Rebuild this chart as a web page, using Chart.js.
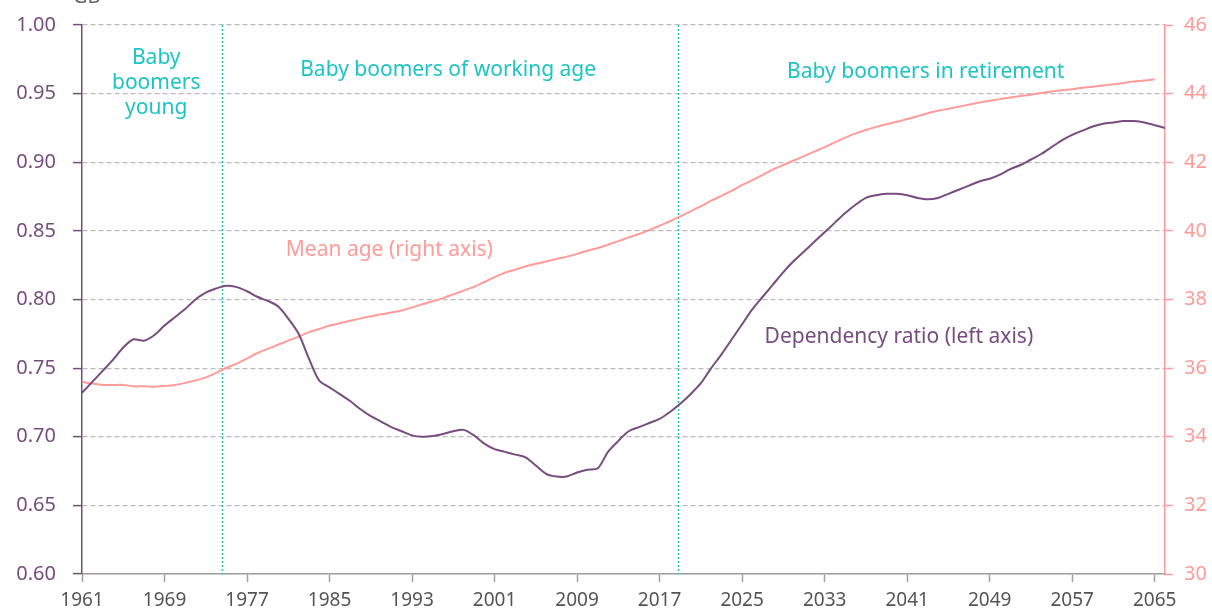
<!DOCTYPE html>
<html>
<head>
<meta charset="utf-8">
<script src="https://cdn.jsdelivr.net/npm/chart.js@4.4.1/dist/chart.umd.min.js"></script>
<style>
  body { margin: 0; background: #fff; }
  #wrap { width: 1212px; height: 612px; position: relative; }
</style>
</head>
<body>
<div id="wrap"><canvas id="ageChart"></canvas></div>
<script>
// years shown on the horizontal axis
const xTickYears = [1961, 1969, 1977, 1985, 1993, 2001, 2009, 2017, 2025, 2033, 2041, 2049, 2057, 2065];
const leftTicks = [0.60, 0.65, 0.70, 0.75, 0.80, 0.85, 0.90, 0.95, 1.00];
const rightTicks = [30, 32, 34, 36, 38, 40, 42, 44, 46];

// dependency ratio, 1961-2066 (left axis)
const dependencyRatio = [
  0.732, 0.740, 0.748, 0.756, 0.765, 0.771, 0.770, 0.774, 0.781, 0.787,
  0.793, 0.800, 0.805, 0.808, 0.810, 0.809, 0.806, 0.802, 0.799, 0.795,
  0.786, 0.775, 0.757, 0.741, 0.736, 0.731, 0.726, 0.720, 0.715, 0.711,
  0.707, 0.704, 0.701, 0.700, 0.7005, 0.702, 0.704, 0.705, 0.701, 0.695,
  0.691, 0.689, 0.687, 0.685, 0.679, 0.673, 0.671, 0.671, 0.674, 0.676,
  0.677, 0.689, 0.697, 0.704, 0.707, 0.710, 0.713, 0.718, 0.724, 0.731,
  0.739, 0.750, 0.760, 0.771, 0.782, 0.793, 0.802, 0.811, 0.820, 0.828,
  0.835, 0.842, 0.849, 0.856, 0.863, 0.869, 0.874, 0.876, 0.877, 0.877,
  0.876, 0.874, 0.873, 0.874, 0.877, 0.880, 0.883, 0.886, 0.888, 0.891,
  0.895, 0.898, 0.902, 0.906, 0.911, 0.916, 0.920, 0.923, 0.926, 0.928,
  0.929, 0.930, 0.930, 0.929, 0.927, 0.925
];

// mean age, 1961-2065 (right axis)
const meanAge = [
  35.60, 35.55, 35.51, 35.51, 35.51, 35.47, 35.47, 35.46, 35.48, 35.51,
  35.57, 35.64, 35.73, 35.86, 36.01, 36.13, 36.28, 36.44, 36.56, 36.68,
  36.80, 36.92, 37.05, 37.14, 37.24, 37.31, 37.38, 37.45, 37.51, 37.57,
  37.62, 37.68, 37.77, 37.86, 37.95, 38.04, 38.15, 38.26, 38.37, 38.51,
  38.65, 38.78, 38.87, 38.96, 39.04, 39.11, 39.18, 39.25, 39.33, 39.42,
  39.50, 39.60, 39.70, 39.81, 39.91, 40.02, 40.15, 40.28, 40.42, 40.57,
  40.72, 40.88, 41.02, 41.17, 41.34, 41.48, 41.63, 41.79, 41.92, 42.05,
  42.18, 42.31, 42.44, 42.58, 42.72, 42.84, 42.94, 43.03, 43.11, 43.18,
  43.26, 43.34, 43.43, 43.50, 43.56, 43.62, 43.68, 43.74, 43.79, 43.84,
  43.89, 43.93, 43.97, 44.02, 44.06, 44.10, 44.13, 44.17, 44.20, 44.24,
  44.27, 44.31, 44.35, 44.38, 44.42
];

const firstYear = 1961;
const depYears = dependencyRatio.map((v, i) => firstYear + i);
const ageYears = meanAge.map((v, i) => firstYear + i);

// period boundaries (dotted cyan lines)
const periodLines = [1974.6, 2018.8];

const PURPLE = '#774c7e';
const SALMON = '#ff9b98';
const CYAN = '#1cc4c4';
const FONT = "'Noto Sans', sans-serif";

// period titles and series labels, placed in data units
const notes = [
  { lines: ['Baby', 'boomers', 'young'], x: 1968.2, y: 0.976, color: CYAN },
  { lines: ['Baby boomers of working age'], x: 1996.5, y: 0.967, color: CYAN },
  { lines: ['Baby boomers in retirement'], x: 2042.8, y: 0.966, color: CYAN },
  { lines: ['Mean age (right axis)'], x: 1990.8, y: 0.836, color: SALMON },
  { lines: ['Dependency ratio (left axis)'], x: 2040.2, y: 0.773, color: PURPLE }
];

const overlay = {
  id: 'overlay',
  beforeDatasetsDraw(chart) {
    const { ctx, chartArea, scales } = chart;
    ctx.save();
    ctx.strokeStyle = CYAN;
    ctx.lineWidth = 1.5;
    ctx.setLineDash([2, 2]);
    periodLines.forEach(yr => {
      const px = Math.round(scales.x.getPixelForValue(yr)) + 0.5;
      ctx.beginPath();
      ctx.moveTo(px, chartArea.top);
      ctx.lineTo(px, chartArea.bottom);
      ctx.stroke();
    });
    ctx.restore();
  },
  afterDraw(chart) {
    const { ctx, scales } = chart;
    ctx.save();
    ctx.font = '21px ' + FONT;
    ctx.textAlign = 'center';
    ctx.textBaseline = 'middle';
    notes.forEach(n => {
      const px = scales.x.getPixelForValue(n.x);
      const py = scales.y.getPixelForValue(n.y);
      ctx.fillStyle = n.color;
      n.lines.forEach((t, i) => ctx.fillText(t, px, py + i * 25));
    });
    // axis unit, mostly cut off at the top edge
    ctx.fillStyle = '#666';
    ctx.textAlign = 'left';
    ctx.textBaseline = 'alphabetic';
    ctx.font = '20px ' + FONT;
    ctx.fillText('GB', 73, 3);
    ctx.restore();
  }
};

// fixed axis sizes so the plot area matches the original
const fixWidth = w => s => {
  s.width = w;
  s.paddingTop = 0;
  s.paddingBottom = 0;
};

const ctx = document.getElementById('ageChart').getContext('2d');

new Chart(ctx, {
  type: 'line',
  data: {
    datasets: [
      {
        label: 'Dependency ratio (left axis)',
        data: depYears.map((yr, i) => ({ x: yr, y: dependencyRatio[i] })),
        yAxisID: 'y',
        borderColor: PURPLE,
        borderWidth: 2,
        pointRadius: 0,
        tension: 0.3,
        fill: false
      },
      {
        label: 'Mean age (right axis)',
        data: ageYears.map((yr, i) => ({ x: yr, y: meanAge[i] })),
        yAxisID: 'y2',
        borderColor: SALMON,
        borderWidth: 2,
        pointRadius: 0,
        tension: 0.3,
        fill: false
      }
    ]
  },
  options: {
    responsive: true,
    maintainAspectRatio: false,
    animation: false,
    layout: { padding: { top: 25, left: 0, right: 0, bottom: 0 } },
    plugins: {
      legend: { display: false },
      tooltip: { enabled: false }
    },
    scales: {
      x: {
        type: 'linear',
        min: 1961,
        max: 2066,
        afterBuildTicks: s => { s.ticks = xTickYears.map(v => ({ value: v })); },
        afterFit: s => { s.height = 38; },
        border: { color: '#a0a0a0', width: 1.5 },
        grid: { drawOnChartArea: false, tickLength: 8, tickColor: '#a0a0a0', tickWidth: 1.5 },
        ticks: {
          color: '#555',
          font: { family: FONT, size: 19 },
          padding: 7,
          maxRotation: 0,
          autoSkip: false,
          callback: v => String(v)
        }
      },
      y: {
        position: 'left',
        min: 0.60,
        max: 1.00,
        afterBuildTicks: s => { s.ticks = leftTicks.map(v => ({ value: v })); },
        afterFit: fixWidth(82),
        border: { color: PURPLE, width: 1.5, dash: [5, 3] },
        grid: {
          color: '#bcbcbc',
          lineWidth: 1.2,
          tickLength: 9,
          tickColor: PURPLE,
          tickBorderDash: [],
          tickWidth: 1.5
        },
        ticks: {
          color: PURPLE,
          font: { family: FONT, size: 20 },
          padding: 17,
          callback: v => v.toFixed(2)
        }
      },
      y2: {
        position: 'right',
        min: 30,
        max: 46,
        afterBuildTicks: s => { s.ticks = rightTicks.map(v => ({ value: v })); },
        afterFit: fixWidth(47),
        border: { color: SALMON, width: 1.5 },
        grid: { drawOnChartArea: false, tickLength: 8, tickColor: SALMON, tickWidth: 1.5 },
        ticks: {
          color: SALMON,
          font: { family: FONT, size: 20 },
          padding: 11,
          callback: v => String(v)
        }
      }
    }
  },
  plugins: [overlay]
});
</script>
</body>
</html>
